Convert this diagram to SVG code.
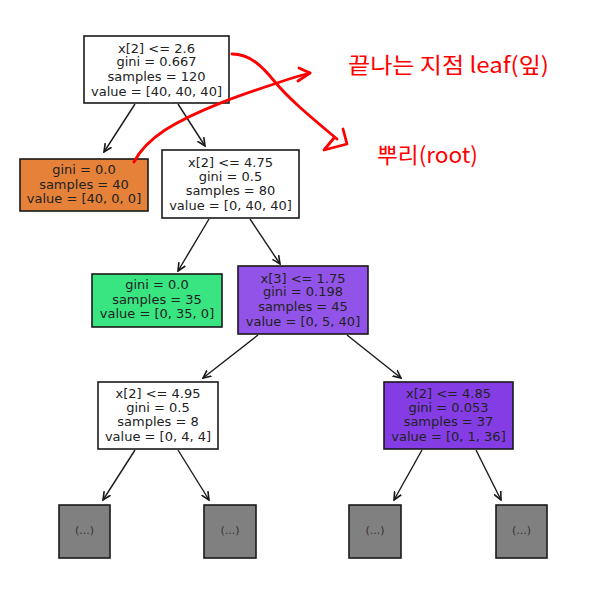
<svg xmlns="http://www.w3.org/2000/svg" width="601" height="599" viewBox="0 0 601 599">
<defs>
<style>
.box{stroke:#1a1a1a;stroke-width:1.6}
.t{font-family:"DejaVu Sans",sans-serif;font-size:13px;fill:#222;text-anchor:middle}
.e{font-family:"DejaVu Sans",sans-serif;font-size:11px;fill:#333;text-anchor:middle}
.edge{stroke:#1a1a1a;stroke-width:1.4;fill:none}
.red{stroke:#ff0000;stroke-width:2.8;fill:none;stroke-linecap:round;stroke-linejoin:round}
.rt{font-family:"Malgun Gothic","Noto Sans CJK KR",sans-serif;font-size:22px;fill:#ff0000}
</style>
<marker id="ah" viewBox="0 0 10 10" refX="9" refY="5" markerWidth="9" markerHeight="9" markerUnits="userSpaceOnUse" orient="auto">
<path d="M0,0.8 L9,5 L0,9.2" fill="none" stroke="#1a1a1a" stroke-width="1.8"/>
</marker>
</defs>
<rect width="601" height="599" fill="#ffffff"/>

<g id="connectors">
<line class="edge" x1="135" y1="104" x2="104" y2="152" marker-end="url(#ah)"/>
<line class="edge" x1="178" y1="104" x2="205" y2="146" marker-end="url(#ah)"/>
<line class="edge" x1="209" y1="219" x2="178" y2="271" marker-end="url(#ah)"/>
<line class="edge" x1="250" y1="219" x2="280" y2="264" marker-end="url(#ah)"/>
<line class="edge" x1="258" y1="335" x2="203" y2="378" marker-end="url(#ah)"/>
<line class="edge" x1="347" y1="335" x2="401" y2="378" marker-end="url(#ah)"/>
<line class="edge" x1="135" y1="450" x2="103" y2="500" marker-end="url(#ah)"/>
<line class="edge" x1="178" y1="450" x2="209" y2="500" marker-end="url(#ah)"/>
<line class="edge" x1="422" y1="450" x2="394" y2="500" marker-end="url(#ah)"/>
<line class="edge" x1="476" y1="450" x2="501" y2="500" marker-end="url(#ah)"/>
</g>

<g id="root">
<rect class="box" x="84" y="36" width="145" height="67" fill="#ffffff"/>
<text class="t" x="156.5" y="52.5">x[2] &lt;= 2.6</text>
<text class="t" x="156.5" y="66">gini = 0.667</text>
<text class="t" x="156.5" y="81">samples = 120</text>
<text class="t" x="156.5" y="96">value = [40, 40, 40]</text>
</g>

<g id="leaf_orange">
<rect class="box" x="20" y="159" width="128" height="52" fill="#e58139"/>
<text class="t" x="84" y="173.5">gini = 0.0</text>
<text class="t" x="84" y="188.5">samples = 40</text>
<text class="t" x="84" y="203">value = [40, 0, 0]</text>
</g>

<g id="node_475">
<rect class="box" x="162" y="150" width="137" height="68" fill="#ffffff"/>
<text class="t" x="230.5" y="167">x[2] &lt;= 4.75</text>
<text class="t" x="230.5" y="181">gini = 0.5</text>
<text class="t" x="230.5" y="195">samples = 80</text>
<text class="t" x="230.5" y="210">value = [0, 40, 40]</text>
</g>

<g id="leaf_green">
<rect class="box" x="92" y="274" width="130" height="53" fill="#39e581"/>
<text class="t" x="157" y="288.5">gini = 0.0</text>
<text class="t" x="157" y="303.5">samples = 35</text>
<text class="t" x="157" y="318">value = [0, 35, 0]</text>
</g>

<g id="node_x3">
<rect class="box" x="238" y="266" width="130" height="68" fill="#9253e8"/>
<text class="t" x="303" y="282.5">x[3] &lt;= 1.75</text>
<text class="t" x="303" y="296">gini = 0.198</text>
<text class="t" x="303" y="311">samples = 45</text>
<text class="t" x="303" y="326">value = [0, 5, 40]</text>
</g>

<g id="node_495">
<rect class="box" x="98" y="382" width="120" height="67" fill="#ffffff"/>
<text class="t" x="158" y="398">x[2] &lt;= 4.95</text>
<text class="t" x="158" y="412">gini = 0.5</text>
<text class="t" x="158" y="426">samples = 8</text>
<text class="t" x="158" y="441">value = [0, 4, 4]</text>
</g>

<g id="node_485">
<rect class="box" x="384" y="382" width="129" height="67" fill="#843de5"/>
<text class="t" x="448.5" y="398">x[2] &lt;= 4.85</text>
<text class="t" x="448.5" y="412">gini = 0.053</text>
<text class="t" x="448.5" y="426">samples = 37</text>
<text class="t" x="448.5" y="441">value = [0, 1, 36]</text>
</g>

<g id="trunc1">
<rect class="box" x="59" y="505" width="51" height="53" fill="#808080"/>
<text class="e" x="84.5" y="534">(...)</text>
</g>
<g id="trunc2">
<rect class="box" x="204" y="505" width="52" height="53" fill="#808080"/>
<text class="e" x="230" y="534">(...)</text>
</g>
<g id="trunc3">
<rect class="box" x="349" y="505" width="52" height="53" fill="#808080"/>
<text class="e" x="375" y="534">(...)</text>
</g>
<g id="trunc4">
<rect class="box" x="496" y="505" width="51" height="53" fill="#808080"/>
<text class="e" x="521.5" y="534">(...)</text>
</g>

<g id="annotations">
<path class="red" d="M232,54 C250,54 262,66 275,82 C290,100 312,118 337,139"/>
<path class="red" d="M343,129 L347,144 L324,150 L334,138"/>
<path class="red" d="M134,162 C140,150 150,140 165,130 C200,108 250,92 280,82 C292,78 302,75 310,73"/>
<path class="red" d="M299,68 L310,73 L298,81"/>
<text class="rt" x="348" y="73" textLength="201" lengthAdjust="spacingAndGlyphs">끝나는 지점 leaf(잎)</text>
<text class="rt" x="377" y="163" textLength="101" lengthAdjust="spacingAndGlyphs">뿌리(root)</text>
</g>
</svg>
